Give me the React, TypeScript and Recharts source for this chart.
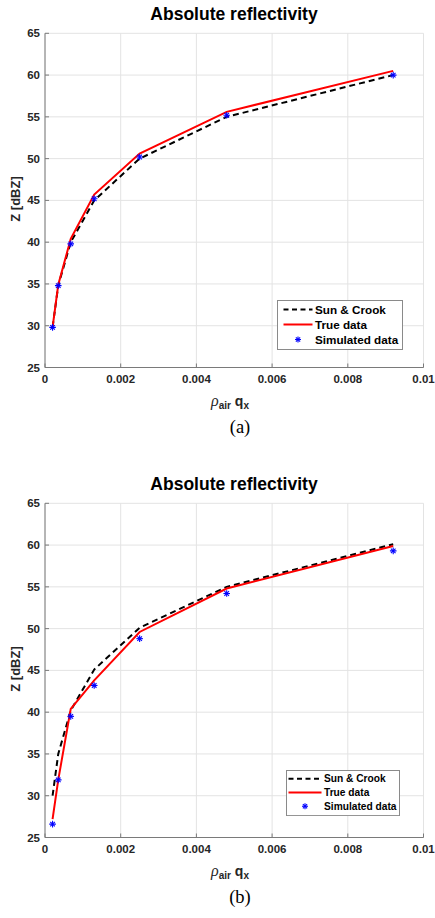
import { CartesianGrid, ComposedChart, Customized, Legend, Line, Scatter, XAxis, YAxis } from "recharts";

// mixing ratio times air density (x) for every curve
const qx = [0.0002, 0.00035, 0.00068, 0.0013, 0.0025, 0.0048, 0.0092];

// panel (a)
const sunCrookA = [29.8, 34.8, 40.0, 45.0, 50.0, 55.0, 60.0];
const trueA = [29.8, 34.9, 40.4, 45.7, 50.6, 55.6, 60.5];
const simA = [29.8, 34.8, 39.8, 45.2, 50.2, 55.2, 60.0];

// panel (b)
const sunCrookB = [30.0, 35.0, 40.2, 45.1, 50.1, 55.0, 60.1];
const trueB = [27.2, 31.9, 40.4, 43.8, 49.6, 54.8, 59.9];
const simB = [26.6, 31.9, 39.5, 43.2, 48.8, 54.2, 59.3];

const xTicks = [0, 0.002, 0.004, 0.006, 0.008, 0.01];
const yTicks = [25, 30, 35, 40, 45, 50, 55, 60, 65];
const seriesNames = ["Sun & Crook", "True data", "Simulated data"];

const SANS = "Arial, 'Liberation Sans', Helvetica, sans-serif";
const INK = "#262626";

const toPoints = (zs: number[]) => qx.map((q, i) => ({ q, z: zs[i] }));

function Star({ cx, cy, r = 3.3 }: any) {
  const d = r * 0.7;
  return (
    <g stroke="#0000ff" strokeWidth={1.1}>
      <line x1={cx - r} y1={cy} x2={cx + r} y2={cy} />
      <line x1={cx} y1={cy - r} x2={cx} y2={cy + r} />
      <line x1={cx - d} y1={cy - d} x2={cx + d} y2={cy + d} />
      <line x1={cx - d} y1={cy + d} x2={cx + d} y2={cy - d} />
    </g>
  );
}

function KeyBox({ font, row, sample, width, pad }: { font: number; row: number; sample: number; width: number; pad: number }) {
  const h = row * 3 + 5;
  const y0 = row / 2 + 2;
  return (
    <svg width={width} height={h} style={{ display: "block" }}>
      <rect x={0.5} y={0.5} width={width - 1} height={h - 1} fill="#fff" stroke="#8a8a8a" />
      <line x1={pad} x2={pad + sample} y1={y0} y2={y0} stroke="#000" strokeWidth={2} strokeDasharray="5 3.5" />
      <line x1={pad} x2={pad + sample} y1={y0 + row} y2={y0 + row} stroke="#ff0000" strokeWidth={2} />
      <Star cx={pad + sample / 2} cy={y0 + row * 2} r={3} />
      {seriesNames.map((name, i) => (
        <text key={name} x={pad + sample + 2.5} y={y0 + row * i} dy="0.35em" fontFamily={SANS} fontWeight="bold" fontSize={font} fill="#000">
          {name}
        </text>
      ))}
    </svg>
  );
}

function Labels({ caption }: { caption: string }) {
  return (
    <g>
      <text x={234} y={19.5} textAnchor="middle" fontFamily={SANS} fontWeight="bold" fontSize={17.5} fill="#000">
        Absolute reflectivity
      </text>
      <text x={19.5} y={199} transform="rotate(-90 19.5 199)" textAnchor="middle" fontFamily={SANS} fontWeight="bold" fontSize={13} fill={INK}>
        Z [dBZ]
      </text>
      <text x={211} y={406} fontFamily={SANS} fontWeight="bold" fill={INK}>
        <tspan fontFamily="'Liberation Serif', serif" fontStyle="italic" fontWeight="normal" fontSize={16}>ρ</tspan>
        <tspan fontSize={10} dy={3}>air</tspan>
        <tspan fontSize={14} dy={-3}> q</tspan>
        <tspan fontSize={10} dy={3}>x</tspan>
      </text>
      <text x={240} y={432.5} textAnchor="middle" fontFamily="'Liberation Serif', 'Times New Roman', serif" fontSize={18.5} fill="#000">
        {caption}
      </text>
    </g>
  );
}

function Panel({ top, caption, sun, truth, sim, legend }: any) {
  const tick = { fill: INK, fontSize: 11.5, fontWeight: "bold", fontFamily: SANS };
  const axisLine = { stroke: "#7a7a7a" };
  return (
    <div style={{ position: "absolute", left: 0, top }}>
      <ComposedChart width={435} height={448} margin={{ top: 33.3, right: 11.5, left: 0, bottom: 50.5 }}>
        <CartesianGrid stroke="#e3e3e3" horizontalValues={yTicks} verticalValues={xTicks} />
        <XAxis dataKey="q" type="number" domain={[0, 0.01]} ticks={xTicks} height={30} tick={tick}
          tickFormatter={(v) => (v === 0 ? "0" : String(+v.toFixed(3)))} tickSize={-4} tickMargin={11}
          axisLine={axisLine} tickLine={axisLine} allowDataOverflow />
        <XAxis xAxisId="top" orientation="top" dataKey="q" type="number" domain={[0, 0.01]} ticks={xTicks} height={0}
          tickFormatter={() => ""} tickSize={-4} axisLine={axisLine} tickLine={axisLine} />
        <YAxis type="number" domain={[25, 65]} ticks={yTicks} width={45} tick={tick} tickSize={-4} tickMargin={9}
          axisLine={axisLine} tickLine={axisLine} allowDataOverflow />
        <YAxis yAxisId="right" orientation="right" type="number" domain={[25, 65]} ticks={yTicks} width={0}
          tickFormatter={() => ""} tickSize={-4} axisLine={axisLine} tickLine={axisLine} />
        <Line data={toPoints(sun)} dataKey="z" name={seriesNames[0]} stroke="#000" strokeWidth={2} strokeDasharray="6 4"
          dot={false} isAnimationActive={false} />
        <Line data={toPoints(truth)} dataKey="z" name={seriesNames[1]} stroke="#ff0000" strokeWidth={2}
          dot={false} isAnimationActive={false} />
        <Scatter data={toPoints(sim)} dataKey="z" name={seriesNames[2]} shape={(p: any) => <Star cx={p.cx} cy={p.cy} />}
          isAnimationActive={false} />
        <Legend layout="horizontal" verticalAlign="middle" align="center"
          wrapperStyle={{ left: legend.left, top: 300, width: legend.width }}
          content={() => <KeyBox font={legend.font} row={legend.row} sample={legend.sample} width={legend.width} pad={legend.pad} />} />
        <Customized component={<Labels caption={caption} />} />
      </ComposedChart>
    </div>
  );
}

export default function App() {
  return (
    <div style={{ position: "absolute", left: 0, top: 0, width: 435, height: 918, background: "#fff", overflow: "hidden" }}>
      <Panel top={0} caption="(a)" sun={sunCrookA} truth={trueA} sim={simA}
        legend={{ left: 277, width: 126, font: 11.7, row: 15, sample: 29, pad: 6.5 }} />
      <Panel top={470} caption="(b)" sun={sunCrookB} truth={trueB} sim={simB}
        legend={{ left: 286, width: 114, font: 10.2, row: 13.7, sample: 33, pad: 2.5 }} />
    </div>
  );
}
